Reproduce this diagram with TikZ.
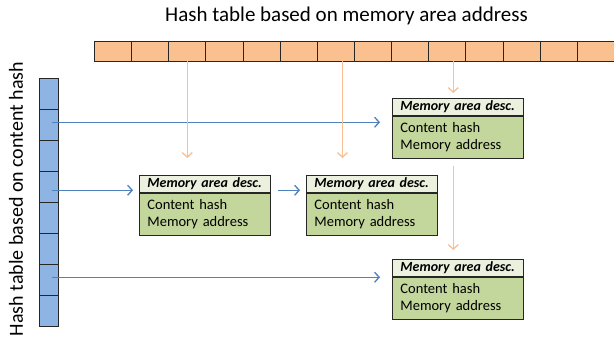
\documentclass[tikz,border=0pt]{standalone}
\usepackage{fontspec}
\setmainfont{Carlito}
\usetikzlibrary{arrows.meta,calc}
\definecolor{barorange}{HTML}{FAC090}
\definecolor{arrorange}{HTML}{F9BE92}
\definecolor{colblue}{HTML}{8EB4E3}
\definecolor{arrblue}{HTML}{4F81BD}
\definecolor{hdrgreen}{HTML}{EBF1DE}
\definecolor{bodygreen}{HTML}{C3D69B}
\definecolor{edge}{HTML}{262626}
\begin{document}
\begin{tikzpicture}[x=1pt,y=-1pt,
 cellh/.style={draw=edge, fill=barorange, line width=0.9pt, minimum width=37.14pt, minimum height=19.5pt, inner sep=0pt, anchor=north west},
 cellv/.style={draw=edge, fill=colblue, line width=0.9pt, minimum width=19.5pt, minimum height=31pt, inner sep=0pt, anchor=north west},
 hdr/.style={draw=edge, fill=hdrgreen, line width=0.8pt, minimum height=17pt, inner xsep=8pt, inner ysep=0pt, text width=115pt, align=left, anchor=north west, font=\fontsize{14}{16}\selectfont\bfseries\itshape},
 body/.style={draw=edge, fill=bodygreen, line width=0.8pt, minimum height=42pt, inner xsep=8pt, inner ysep=0pt, text width=115pt, align=left, anchor=north, font=\fontsize{14.5}{17.5}\selectfont},
 title/.style={font=\fontsize{21}{25}\selectfont, inner sep=0pt},
 oarr/.style={draw=arrorange, line width=1.3pt, -{Straight Barb[length=4.5pt,width=10pt]}},
 barr/.style={draw=arrblue, line width=1.3pt, -{Straight Barb[length=4.5pt,width=10pt]}}
]
\useasboundingbox (0,0) rectangle (614,340);
\fill[white] (0,0) rectangle (614,340);

% titles
\node[title] (ttop) at (346.5,16) {Hash table based on memory area address};
\node[title, rotate=90, font=\fontsize{20}{24}\selectfont] (tleft) at (16,199) {Hash table based on content hash};

% top hash table
\foreach \i in {1,...,14} {
  \node[cellh] (c\i) at ({94+37.14*(\i-1)},41) {};
}
% left hash table
\foreach \i in {1,...,8} {
  \node[cellv] (v\i) at (38.5,{78.3+31*(\i-1)}) {};
}

% descriptor boxes
\node[hdr] (trh) at (392,98) {Memory area desc.};
\node[body] (trb) at (trh.south) {Content hash\\Memory address};
\node[hdr] (b1h) at (139,175) {Memory area desc.};
\node[body] (b1b) at (b1h.south) {Content hash\\Memory address};
\node[hdr] (b2h) at (306,175) {Memory area desc.};
\node[body] (b2b) at (b2h.south) {Content hash\\Memory address};
\node[hdr] (brh) at (392,259) {Memory area desc.};
\node[body] (brb) at (brh.south) {Content hash\\Memory address};

% blue arrows
\draw[barr] ([xshift=3pt,yshift=3pt]v2.center) -- ([xshift=-12pt,yshift=3pt]v2.center -| trh.west);
\draw[barr] ([xshift=3pt,yshift=-3pt]v4.center) -- ([xshift=-6pt,yshift=-3pt]v4.center -| b1h.west);
\draw[barr] ([xshift=7pt,yshift=-3pt]v4.center -| b1h.east) -- ([xshift=-6pt,yshift=-3pt]v4.center -| b2h.west);
\draw[barr] ([xshift=3pt,yshift=3pt]v7.center) -- ([xshift=-12pt,yshift=3pt]v7.center -| brh.west);

% orange arrows
\draw[oarr] (c3.south) -- ([yshift=17pt]c3.south |- b1h.north);
\draw[oarr] ([xshift=6.6pt]c7.south) -- ([xshift=6.6pt,yshift=17pt]c7.south |- b2h.north);
\draw[oarr] ([xshift=6pt]c10.south) -- ([xshift=6pt,yshift=5pt]c10.south |- trh.north);
\draw[oarr] ([xshift=6pt,yshift=-7pt]c10.south |- trb.south) -- ([xshift=6pt,yshift=9pt]c10.south |- brh.north);
\end{tikzpicture}
\end{document}
